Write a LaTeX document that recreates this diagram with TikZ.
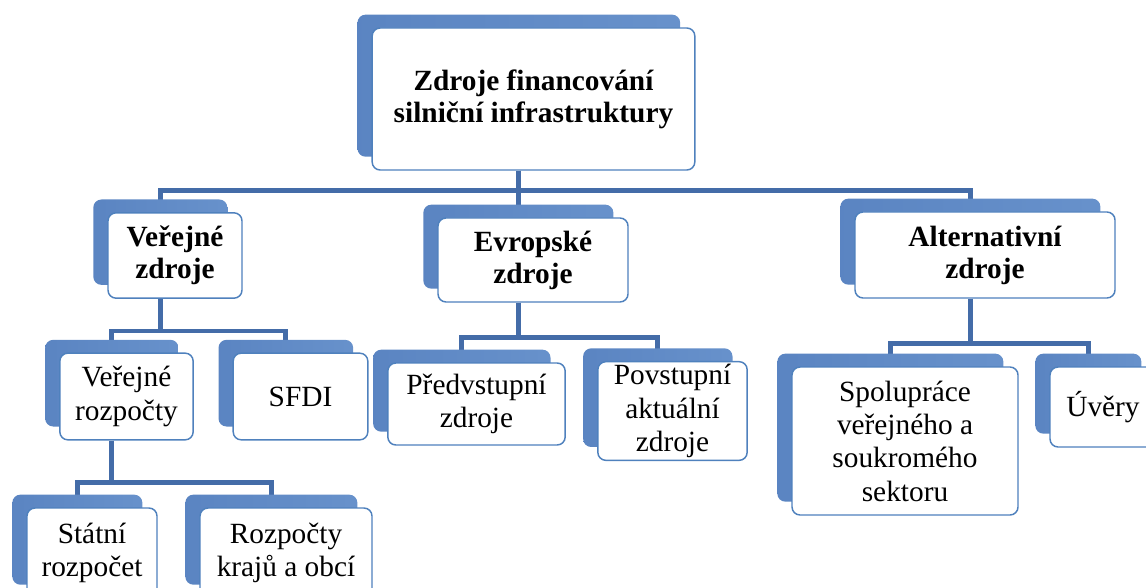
\documentclass[tikz,border=0pt]{standalone}
\usepackage{fontspec}
\setmainfont{Liberation Serif}
\usetikzlibrary{shadows,backgrounds}

\definecolor{rim}{RGB}{79,129,189}
\definecolor{wire}{RGB}{68,108,168}
\definecolor{shleft}{RGB}{52,90,150}
\definecolor{shmid}{RGB}{88,130,192}
\definecolor{shright}{RGB}{110,152,208}
\pgfdeclarehorizontalshading{bevelblue}{100bp}{color(0bp)=(shleft); color(16bp)=(shmid); color(100bp)=(shright)}

\begin{document}
\begin{tikzpicture}[x=0.75pt, y=-0.75pt,
      box/.style={draw=rim, line width=1.1pt, rounded corners=6pt, fill=white,
        align=center, inner sep=2pt, font=\fontsize{22}{25}\selectfont,
        general shadow={shadow xshift=-11pt, shadow yshift=10pt,
          shade, shading=bevelblue}},
      head/.style={box, font=\fontsize{22}{24}\selectfont\bfseries},
      link/.style={draw=wire, line width=3.6pt}
    ]
    \useasboundingbox (0,0) rectangle (1146,588);
    \node[head, minimum width=242pt, minimum height=106.5pt] (top) at (533.5,99)
      {Zdroje financování\\silniční infrastruktury};
    \node[head, minimum width=100.5pt, minimum height=64pt] (vz) at (175,255.5) {Veřejné\\zdroje};
    \node[head, minimum width=142.5pt, minimum height=63pt] (ez) at (533,260) {Evropské\\zdroje};
    \node[head, minimum width=195pt, minimum height=64.5pt] (az) at (985,255) {Alternativní\\zdroje};
    \node[box, minimum width=100pt, minimum height=65pt] (vr) at (126.5,396.5) {Veřejné\\rozpočty};
    \node[box, minimum width=101pt, minimum height=65pt] (sfdi) at (300.5,396.5) {SFDI};
    \node[box, minimum width=97.5pt, minimum height=67.5pt] (sr) at (92,553) {Státní\\rozpočet};
    \node[box, minimum width=129pt, minimum height=67.5pt] (rk) at (286,553) {Rozpočty\\krajů a obcí};
    \node[box, minimum width=133pt, minimum height=61.5pt] (pz) at (476.5,404) {Předvstupní\\zdroje};
    \node[box, minimum width=112pt, minimum height=73.5pt] (pa) at (672.5,411) {Povstupní\\aktuální\\zdroje};
    \node[box, minimum width=169.5pt, minimum height=111pt] (sp) at (905,441)
      {Spolupráce\\veřejného a\\soukromého\\sektoru};
    \node[box, minimum width=79.5pt, minimum height=60pt] (uv) at (1103,407) {Úvěry};
    % connectors behind the boxes
    \begin{scope}[on background layer]
      \foreach \c in {vz,ez,az}
        \draw[link] ([xshift=-11pt]top.south) -- ++(0,20) -| ([xshift=-11pt]\c.north);
      \foreach \c in {vr,sfdi}
        \draw[link] ([xshift=-11pt]vz.south) -- ++(0,32) -| ([xshift=-11pt]\c.north);
      \foreach \c in {pz,pa}
        \draw[link] ([xshift=-11pt]ez.south) -- ++(0,35) -| ([xshift=-11pt]\c.north);
      \foreach \c in {sp,uv}
        \draw[link] ([xshift=-11pt]az.south) -- ++(0,45) -| ([xshift=-11pt]\c.north);
      \foreach \c in {sr,rk}
        \draw[link] ([xshift=-11pt]vr.south) -- ++(0,42) -| ([xshift=-11pt]\c.north);
    \end{scope}
  \end{tikzpicture}
\end{document}
